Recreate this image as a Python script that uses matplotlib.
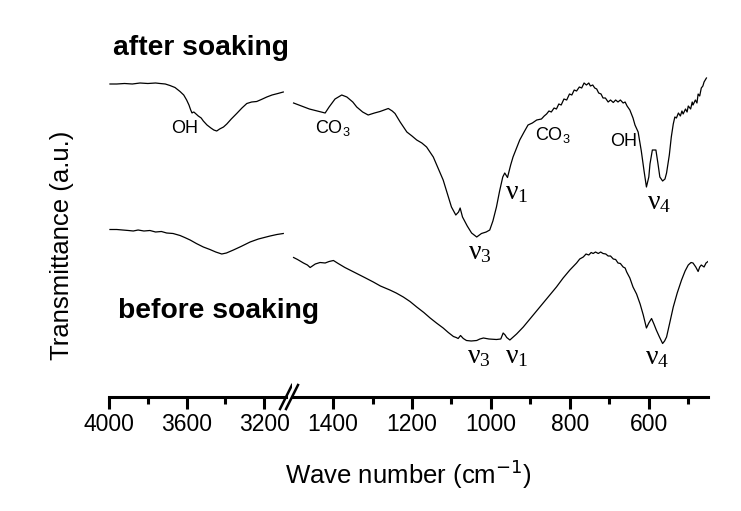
import matplotlib
matplotlib.use('Agg')
import matplotlib.pyplot as plt

plt.rcParams['font.family'] = ['Liberation Sans', 'DejaVu Sans']

# ── Data (wave number in cm-1, transmittance in a.u.) ──────────
# high wave number segment (OH stretch region)
w_hi_after = [3995, 3960, 3920, 3880, 3840, 3800, 3760, 3737, 3710, 3686,
              3660, 3634, 3615, 3600, 3588, 3579, 3572, 3569, 3563, 3557,
              3540, 3525, 3514, 3495, 3475, 3460, 3445, 3430, 3410, 3393,
              3370, 3342, 3315, 3290, 3265, 3239, 3215, 3187, 3160, 3130, 3102]
t_hi_after = [31.3, 31.3, 31.35, 31.3, 31.4, 31.35, 31.4, 31.35, 31.3, 31.15,
              30.95, 30.55, 30.2, 29.7, 29.2, 28.7, 28.4, 28.45, 28.5, 28.4,
              28.1, 27.9, 27.6, 27.2, 26.9, 26.7, 26.6, 26.8, 27.0, 27.3,
              27.8, 28.35, 28.9, 29.35, 29.5, 29.55, 29.75, 30.0, 30.2, 30.35, 30.5]

w_hi_before = [3995, 3960, 3930, 3900, 3875, 3850, 3820, 3789, 3760, 3730,
               3703, 3670, 3634, 3610, 3582, 3550, 3514, 3480, 3450, 3419,
               3395, 3359, 3320, 3273, 3230, 3200, 3170, 3135, 3102]
t_hi_before = [16.75, 16.75, 16.7, 16.65, 16.6, 16.7, 16.6, 16.65, 16.5, 16.55,
               16.4, 16.35, 16.15, 15.95, 15.7, 15.35, 15.0, 14.75, 14.5, 14.3,
               14.4, 14.7, 15.05, 15.5, 15.8, 15.95, 16.1, 16.25, 16.35]

# fingerprint segment (phosphate / carbonate region)
w_lo_after = [1500, 1480, 1460, 1440, 1425, 1420, 1410, 1395, 1378, 1365,
              1350, 1340, 1325, 1311, 1295, 1281, 1260, 1250, 1243, 1230,
              1213, 1200, 1188, 1175, 1163, 1146, 1135, 1121, 1110, 1100,
              1089, 1082, 1078, 1072, 1060, 1049, 1036, 1024, 1012, 1003,
              995, 986, 978, 970, 965, 958, 950, 944, 935, 927,
              916, 906, 895, 884, 872, 865,
              859, 853, 847, 840, 834, 828, 822, 815, 808, 801,
              795, 789, 783, 776, 770, 764, 758, 752, 748, 742,
              737, 732, 727, 721, 716, 710, 703, 697, 690, 684,
              678, 672, 665, 660, 655, 648, 640, 635, 627, 619,
              612, 606, 600, 597, 591, 582, 577, 572, 565, 559,
              555, 548, 543, 538, 534, 530, 525, 520, 516, 513,
              507, 503, 500, 494, 490, 488, 482, 478, 475, 471,
              467, 463, 460, 454]
t_lo_after = [29.4, 29.1, 28.8, 28.6, 28.45, 28.4, 29.0, 29.8, 30.2, 30.0,
              29.5, 29.0, 28.5, 28.2, 28.4, 28.55, 28.85, 28.6, 28.35, 27.5,
              26.5, 26.1, 25.7, 25.4, 25.0, 24.0, 23.0, 21.7, 20.3, 19.0,
              18.2, 18.5, 18.9, 18.0, 17.1, 16.4, 16.0, 16.35, 16.5, 16.7,
              17.6, 19.0, 20.6, 22.0, 22.4, 21.95, 23.2, 24.0, 24.9, 25.7,
              26.5, 27.2, 27.4, 27.7, 27.8, 28.1,
              28.3, 28.6, 28.5, 28.9, 28.8, 29.3, 29.2, 29.8, 29.7, 30.3,
              30.2, 30.7, 30.6, 31.0, 30.9, 31.4, 31.2, 31.4, 31.1, 31.2,
              30.9, 30.8, 30.4, 30.3, 29.9, 29.9, 29.5, 29.7, 29.45, 29.7,
              29.5, 29.7, 29.4, 29.5, 29.1, 28.7, 27.9, 27.2, 26.5, 24.6,
              22.6, 21.0, 22.0, 23.3, 24.7, 24.7, 23.4, 22.0, 21.6, 21.8,
              22.4, 24.2, 26.0, 27.3, 28.0, 27.9, 28.4, 28.1, 28.6, 28.3,
              28.8, 28.5, 29.1, 28.8, 29.5, 29.2, 29.7, 29.4, 30.3, 30.1,
              30.9, 31.1, 31.5, 31.9]

w_lo_before = [1500, 1490, 1475, 1465, 1458, 1445, 1433, 1420, 1410, 1399,
               1387, 1370, 1355, 1340, 1320, 1298, 1280, 1256, 1240, 1222,
               1205, 1188, 1170, 1154, 1138, 1121, 1108, 1095, 1088, 1083,
               1077, 1070, 1062, 1050, 1036, 1028, 1019, 1005, 986, 975,
               969, 964, 960, 952, 935, 918, 897, 876, 855, 834,
               817, 800, 783, 775, 766, 759, 752, 746, 741, 735,
               728, 722, 716, 709, 703, 697, 690, 684, 678, 672,
               665, 660, 656, 648, 640, 631, 622, 614, 606, 600,
               593, 587, 581, 573, 565, 560, 555, 547, 538, 528,
               517, 508, 500, 493, 488, 481, 475, 471, 467, 460, 455, 450]
t_lo_before = [13.95, 13.75, 13.4, 13.2, 12.95, 13.3, 13.45, 13.4, 13.55, 13.65,
               13.35, 12.95, 12.65, 12.35, 11.95, 11.5, 11.1, 10.7, 10.4, 10.0,
               9.55, 9.0, 8.45, 7.9, 7.4, 6.9, 6.45, 6.05, 5.95, 5.85,
               6.15, 5.85, 5.65, 5.6, 5.65, 5.8, 5.9, 5.8, 5.75, 5.8,
               6.4, 6.2, 5.95, 5.7, 6.3, 7.0, 8.0, 9.0, 10.0, 11.0,
               11.9, 12.7, 13.4, 13.8, 14.0, 14.3, 14.2, 14.45, 14.35, 14.5,
               14.35, 14.5, 14.35, 14.3, 14.1, 14.1, 13.8, 13.75, 13.4, 13.35,
               13.0, 12.9, 12.5, 11.9, 11.0, 10.3, 9.3, 8.2, 6.9, 7.4,
               7.85, 7.3, 6.7, 6.0, 5.35, 5.6, 6.0, 7.4, 9.0, 10.4,
               11.7, 12.6, 13.2, 13.45, 13.4, 13.0, 12.55, 13.0, 13.2, 13.0, 13.4, 13.55]

hi_major, hi_minor = [4000, 3600, 3200], [3800, 3400]
lo_major, lo_minor = [1400, 1200, 1000, 800, 600], [1300, 1100, 900, 700, 500]

# band labels: (text, x, y)
bands_hi = [('OH', 3680, 26.9)]
bands_lo = [('$\\mathregular{CO_3}$', 1446, 26.9),
            ('$\\mathregular{CO_3}$', 889, 26.2),
            ('OH', 699, 25.6)]
nu_lo = [('$\\mathregular{\\nu_3}$', 1058, 14.4),
         ('$\\mathregular{\\nu_1}$', 965, 20.4),
         ('$\\mathregular{\\nu_4}$', 605, 19.4),
         ('$\\mathregular{\\nu_3}$', 1061, 4.0),
         ('$\\mathregular{\\nu_1}$', 965, 4.0),
         ('$\\mathregular{\\nu_4}$', 610, 3.9)]

W, H = 741, 511
LW_AX = 2.2


def _style(ax, major, minor):
    for side in ('left', 'right', 'top'):
        ax.spines[side].set_visible(False)
    ax.spines['bottom'].set_linewidth(LW_AX)
    ax.set_yticks([])
    ax.set_xticks(major)
    ax.set_xticks(minor, minor=True)
    ax.set_xticklabels([str(v) for v in major])
    ax.tick_params(axis='x', which='major', direction='out', length=8.5,
                   width=LW_AX, labelsize=16.5, pad=3)
    ax.tick_params(axis='x', which='minor', direction='out', length=5,
                   width=LW_AX)
    ax.set_ylim(0, 33.7)


fig = plt.figure(figsize=(W / 100, H / 100), dpi=100)
bottom, height = 1 - 397 / H, 337 / H
ax1 = fig.add_axes([109 / W, bottom, 177 / W, height])
ax2 = fig.add_axes([292 / W, bottom, 416 / W, height])

ax1.plot(w_hi_after, t_hi_after, color='black', lw=0.9)
ax1.plot(w_hi_before, t_hi_before, color='black', lw=0.9)
ax2.plot(w_lo_after, t_lo_after, color='black', lw=0.9)
ax2.plot(w_lo_before, t_lo_before, color='black', lw=0.9)

ax1.set_xlim(4000, 3088)
ax2.set_xlim(1504, 450)
_style(ax1, hi_major, hi_minor)
_style(ax2, lo_major, lo_minor)

# axis break marks "//"
dx, dy = 6 / 177, 12 / 337
ax1.plot([1 - dx, 1 + dx], [-dy, dy], transform=ax1.transAxes,
         color='black', lw=1.8, clip_on=False)
dx2 = 6 / 416
ax2.plot([-dx2, dx2], [-dy, dy], transform=ax2.transAxes,
         color='black', lw=1.8, clip_on=False)

for txt, x, y in bands_hi:
    ax1.text(x, y, txt, fontsize=13, ha='left', va='center')
for txt, x, y in bands_lo:
    ax2.text(x, y, txt, fontsize=13, ha='left', va='center')
for txt, x, y in nu_lo:
    ax2.text(x, y, txt, fontsize=20, ha='left', va='center',
             family='Liberation Serif')

fig.text(113 / W, 1 - 55 / H, 'after soaking', fontsize=20.3,
         fontweight='bold', ha='left', va='baseline')
fig.text(118 / W, 1 - 318 / H, 'before soaking', fontsize=20.3,
         fontweight='bold', ha='left', va='baseline')
fig.text(408 / W, 1 - 474 / H, 'Wave number (cm$^{-1}$)', fontsize=18.5,
         ha='center', va='center')
fig.text(62 / W, 1 - 245 / H, 'Transmittance (a.u.)', fontsize=18.5,
         rotation=90, ha='center', va='center')

fig.savefig('out.png', dpi=100, facecolor='white')
